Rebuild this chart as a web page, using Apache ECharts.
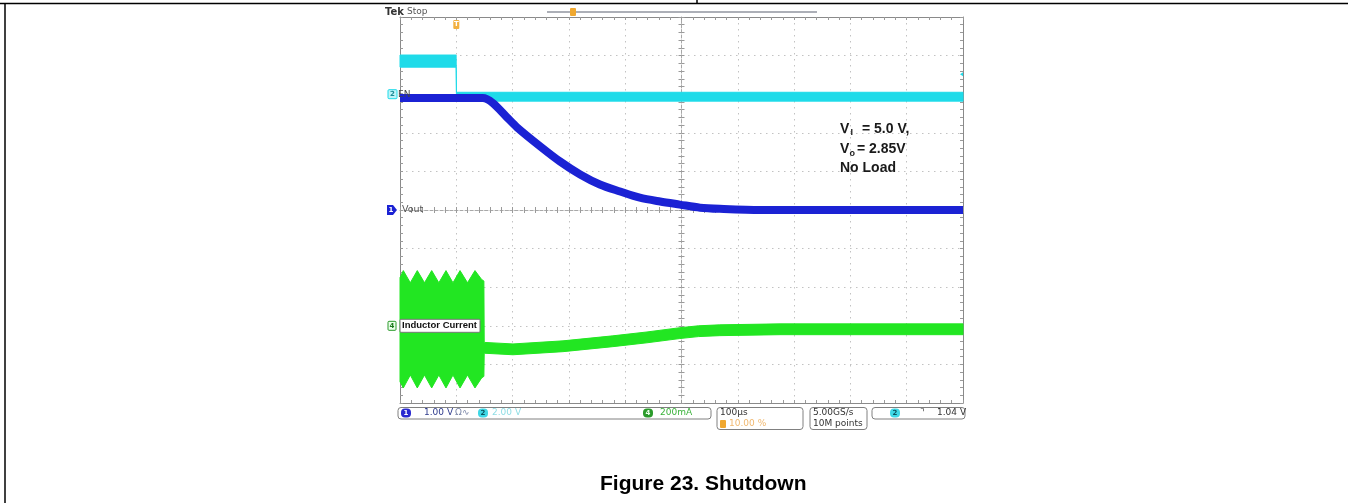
<!DOCTYPE html>
<html><head><meta charset="utf-8">
<script src="https://cdn.jsdelivr.net/npm/echarts@6/dist/echarts.min.js"></script>
<style>html,body{margin:0;padding:0;background:#fff;}#chart{width:1348px;height:503px;}</style>
</head><body><div id="chart"></div>
<script>
// ================= DATA =================
// Time base: µs relative to the trigger (10 div x 100 µs/div, trigger at 10 %)
const timeMin = -100;
const timeMax = 900;
const timePerDiv = 100;

// Channel 2 - EN (V): upper / lower envelope of the noisy trace
const enTime  = [-100, -0.3, 0.3, 900];
const enUpper = [2.03, 2.03, 0.10, 0.10];
const enLower = [1.40, 1.40, -0.36, -0.36];

// Channel 1 - Vout (V)
const voutTime  = [-100, 47, 65, 90, 108, 149, 184, 220, 255, 291, 326, 362, 397, 433, 468, 540, 900];
const voutVolts = [2.90, 2.90, 2.77, 2.40, 2.14, 1.65, 1.26, 0.92, 0.66, 0.48, 0.32, 0.22, 0.14, 0.06, 0.03, 0.0, 0.0];

// Channel 4 - Inductor current (mA): upper / lower envelope
const ilTime  = [-100, -94.1, -81.7, -69.3, -56.5, -43.7, -31.0, -18.3, -5.9, 6.6, 19.9, 33.2, 45.0, 49.0, 49.6, 100.7, 189.5, 278, 338.7, 397, 430, 468, 575, 900];
const ilUpper = [250, 286, 223, 286, 223, 286, 223, 286, 223, 286, 223, 286, 240, 232, -86, -94, -78, -52, -32, -10, 0, 5, 10, 10];
const ilLower = [-290, -322, -255, -322, -255, -322, -255, -322, -255, -322, -255, -322, -270, -262, -142, -150, -134, -108, -88, -66, -56, -51, -46, -46];

// Vertical settings: units per division and ground-marker position (div)
const ch1 = {scale: 1, pos: 0};     // 1.00 V/div
const ch2 = {scale: 2, pos: 3};     // 2.00 V/div
const ch4 = {scale: 200, pos: -3};  // 200 mA/div
const trigLevel = 1.04;             // V on ch2

// Text
const chLabels = {ch1: 'Vout', ch2: 'EN', ch4: 'Inductor Current'};
const noteLines = ['V', 'I', '= 5.0 V,', 'V', 'o', '= 2.85V', 'No Load'];
const statusTexts = {
  ch1: '1.00 V', bw: 'Ω∿', ch2: '2.00 V', ch4: '200mA',
  hor: '100µs', pos: '10.00 %', rate: '5.00GS/s', pts: '10M points', trig: '1.04 V'
};
const caption = 'Figure 23. Shutdown';

// ================= CHART =================
const CYAN = '#1fdbe9', BLUE = '#1b22d4', GREEN = '#22e622';
const toDiv = (v, ch) => v / ch.scale + ch.pos;

// band = filled region between upper and lower envelopes, drawn via the axes' scales
function band(name, time, upper, lower, ch, color) {
  return {
    type: 'custom', name: name, silent: true, animation: false,
    xAxisIndex: 0, yAxisIndex: 0,
    data: time.map((t, i) => [t, toDiv(upper[i], ch), toDiv(lower[i], ch)]),
    encode: {x: 0, y: [1, 2]},
    renderItem: function (params, api) {
      if (params.dataIndex !== 0) return null;
      const top = time.map((t, i) => api.coord([t, toDiv(upper[i], ch)]));
      const bot = time.map((t, i) => api.coord([t, toDiv(lower[i], ch)])).reverse();
      return {type: 'polygon', shape: {points: top.concat(bot)},
              style: {fill: color, stroke: color, lineWidth: 1}};
    }
  };
}

const tickCol = '#9a9a9a';
function xAx(extra) {
  return Object.assign({
    type: 'value', min: timeMin, max: timeMax, interval: timePerDiv,
    axisLabel: {show: false}, splitLine: {show: false},
    axisLine: {show: true, onZero: false, lineStyle: {color: '#8a8a8a', width: 1}},
    axisTick: {show: true, inside: true, length: 3, lineStyle: {color: tickCol}},
    minorTick: {show: true, splitNumber: 5, length: 3, lineStyle: {color: tickCol}}
  }, extra);
}
function yAx(extra) {
  return Object.assign({
    type: 'value', min: -5, max: 5, interval: 1,
    axisLabel: {show: false}, splitLine: {show: false},
    axisLine: {show: true, onZero: false, lineStyle: {color: '#8a8a8a', width: 1}},
    axisTick: {show: true, inside: true, length: 3, lineStyle: {color: tickCol}},
    minorTick: {show: true, splitNumber: 5, length: 3, lineStyle: {color: tickCol}}
  }, extra);
}
const G = {left: 400, top: 17, width: 563, height: 386};
const dotted = {show: true, lineStyle: {color: '#c2c2c2', width: 1, type: [1.5, 4.5]}};
const centreLine = {show: true, onZero: false, lineStyle: {color: '#a8a8a8', width: 1, type: [3, 2]}};

const option = {
  backgroundColor: '#fff',
  animation: false,
  grid: {left: G.left, top: G.top, width: G.width, height: G.height, containLabel: false},
  xAxis: [
    xAx({position: 'bottom', splitLine: dotted}),
    xAx({position: 'top'}),
    xAx({position: 'bottom', offset: -G.height / 2, axisLine: centreLine}),
    xAx({position: 'bottom', offset: -G.height / 2, axisLine: {show: false, onZero: false},
         axisTick: {show: true, inside: false, length: 3, lineStyle: {color: tickCol}}})
  ],
  yAxis: [
    yAx({position: 'left', splitLine: dotted}),
    yAx({position: 'right'}),
    yAx({position: 'left', offset: -G.width / 2, axisLine: centreLine}),
    yAx({position: 'left', offset: -G.width / 2, axisLine: {show: false, onZero: false},
         axisTick: {show: true, inside: false, length: 3, lineStyle: {color: tickCol}}})
  ],
  series: [
    band('en', enTime, enUpper, enLower, ch2, CYAN),
    {
      type: 'line', name: 'vout', symbol: 'none', silent: true, animation: false,
      smooth: 0.3,
      data: voutTime.map((t, i) => [t, toDiv(voutVolts[i], ch1)]),
      lineStyle: {color: BLUE, width: 8, join: 'round', cap: 'butt'}
    },
    band('il', ilTime, ilUpper, ilLower, ch4, GREEN)
  ]
};

const chart = echarts.init(document.getElementById('chart'), null, {renderer: 'canvas'});
chart.setOption(option);

const px = (t, d) => chart.convertToPixel({gridIndex: 0}, [t, d]);
const y1 = px(0, ch1.pos)[1], y2 = px(0, ch2.pos)[1], y4 = px(0, ch4.pos)[1];
const trigX = px(0, 0)[0];
const lvl = px(timeMax, toDiv(trigLevel, ch2));

const SANS = '"DejaVu Sans", sans-serif';
const ARIAL = '"Liberation Sans", Arial, sans-serif';
function txt(x, y, s, font, fill, align) {
  return {type: 'text', x: x, y: y, z: 100,
    style: {text: s, font: font, fill: fill, textVerticalAlign: 'middle', textAlign: align || 'left'}};
}
function rect(x, y, w, h, style, r) {
  return {type: 'rect', z: 100, shape: {x: x, y: y, width: w, height: h, r: r || 0}, style: style};
}
function pill(cx, cy, fill, s, col) {
  return [rect(cx - 5, cy - 4.5, 10, 9, {fill: fill}, 4),
          txt(cx, cy, s, 'bold 7px ' + SANS, col, 'center')];
}
function line(x1, yA, x2, yB, col, w) {
  return {type: 'line', z: 100, shape: {x1: x1, y1: yA, x2: x2, y2: yB}, style: {stroke: col, lineWidth: w}};
}

const gfx = [];
// page frame
gfx.push(line(0, 3.5, 1348, 3.5, '#000', 1.5));
gfx.push(line(5, 3, 5, 503, '#000', 1.5));
gfx.push(line(697, 0, 697, 4, '#000', 1.5));
// scope header
gfx.push(txt(385, 12, 'Tek', 'bold 10px ' + SANS, '#333'));
gfx.push(txt(407, 12, 'Stop', '9px ' + SANS, '#555'));
gfx.push(line(547, 12, 817, 12, '#5a6070', 1.2));
gfx.push(rect(570, 8, 6, 8, {fill: '#f0a830'}, 1));
// trigger position marker
gfx.push(rect(trigX - 3, 20, 6, 9, {fill: '#f2b040'}, 1));
gfx.push(txt(trigX, 24.5, 'T', 'bold 7px ' + SANS, '#fff', 'center'));
// trigger level marker (ch2)
gfx.push({type: 'polygon', z: 100, shape: {points: [[lvl[0] - 3, lvl[1]], [lvl[0], lvl[1] - 2], [lvl[0], lvl[1] + 2]]}, style: {fill: CYAN}});
// ch2 marker + label
gfx.push(rect(388, y2 - 4.5, 9, 9, {fill: '#bff4f8', stroke: CYAN, lineWidth: 1}, 1));
gfx.push(txt(392.5, y2, '2', 'bold 7px ' + SANS, '#1a8a95', 'center'));
gfx.push(txt(398, y2, chLabels.ch2, '9px ' + SANS, '#444'));
// ch1 marker + label
gfx.push({type: 'polygon', z: 100, shape: {points: [[387, y1 - 5], [393, y1 - 5], [397, y1], [393, y1 + 5], [387, y1 + 5]]}, style: {fill: BLUE}});
gfx.push(txt(391, y1, '1', 'bold 7px ' + SANS, '#fff', 'center'));
gfx.push(txt(402, y1, chLabels.ch1, '9.5px ' + SANS, '#555'));
// ch4 marker + label
gfx.push(rect(388, y4 - 4.5, 8, 9, {fill: '#eaffea', stroke: '#2a9a2a', lineWidth: 1}, 1));
gfx.push(txt(392, y4, '4', 'bold 7px ' + SANS, '#1b7a1b', 'center'));
gfx.push(rect(400, y4 - 6.5, 80, 13, {fill: '#fff', stroke: '#777', lineWidth: 1}, 1));
gfx.push(txt(402, y4, chLabels.ch4, 'bold 9.5px ' + ARIAL, '#111'));
// annotation
const B14 = 'bold 14px ' + ARIAL, B9 = 'bold 9px ' + ARIAL;
gfx.push(txt(840, 129, noteLines[0], B14, '#1a1a1a'));
gfx.push(txt(850.5, 133, noteLines[1], B9, '#1a1a1a'));
gfx.push(txt(862, 129, noteLines[2], B14, '#1a1a1a'));
gfx.push(txt(840, 149, noteLines[3], B14, '#1a1a1a'));
gfx.push(txt(849.5, 154, noteLines[4], B9, '#1a1a1a'));
gfx.push(txt(857, 149, noteLines[5], B14, '#1a1a1a'));
gfx.push(txt(840, 168, noteLines[6], B14, '#1a1a1a'));
// status bar
const S9 = '9px ' + SANS;
const boxStyle = {fill: '#fff', stroke: '#808080', lineWidth: 1};
gfx.push(rect(398, 407.5, 313, 11.5, boxStyle, 3));
gfx.push(rect(717, 407.5, 86, 22, boxStyle, 3));
gfx.push(rect(810, 407.5, 57, 22, boxStyle, 3));
gfx.push(rect(872, 407.5, 93, 11.5, boxStyle, 3));
gfx.push.apply(gfx, pill(406, 413, '#2a2ad0', '1', '#fff'));
gfx.push(txt(424, 413, statusTexts.ch1, S9, '#2d3a8c'));
gfx.push(txt(455, 413, statusTexts.bw, S9, '#7a86a8'));
gfx.push.apply(gfx, pill(483, 413, '#3fd8e6', '2', '#0a5560'));
gfx.push(txt(492, 413, statusTexts.ch2, S9, '#8edde5'));
gfx.push.apply(gfx, pill(648, 413, '#2a9a2a', '4', '#eaffea'));
gfx.push(txt(660, 413, statusTexts.ch4, S9, '#3ab23a'));
gfx.push(txt(720, 413, statusTexts.hor, S9, '#333'));
gfx.push(rect(720, 420, 6, 8, {fill: '#f0a830'}, 1));
gfx.push(txt(729, 424, statusTexts.pos, S9, '#f0b870'));
gfx.push(txt(813, 413, statusTexts.rate, S9, '#333'));
gfx.push(txt(813, 424, statusTexts.pts, S9, '#333'));
gfx.push.apply(gfx, pill(895, 413, '#3fd8e6', '2', '#0a5560'));
gfx.push(txt(920, 413, '⌝', S9, '#333'));
gfx.push(txt(937, 413, statusTexts.trig, S9, '#333'));
// caption
gfx.push(txt(600, 484, caption, 'bold 21px ' + ARIAL, '#000'));

chart.setOption({graphic: {elements: gfx}});
</script>
</body></html>
